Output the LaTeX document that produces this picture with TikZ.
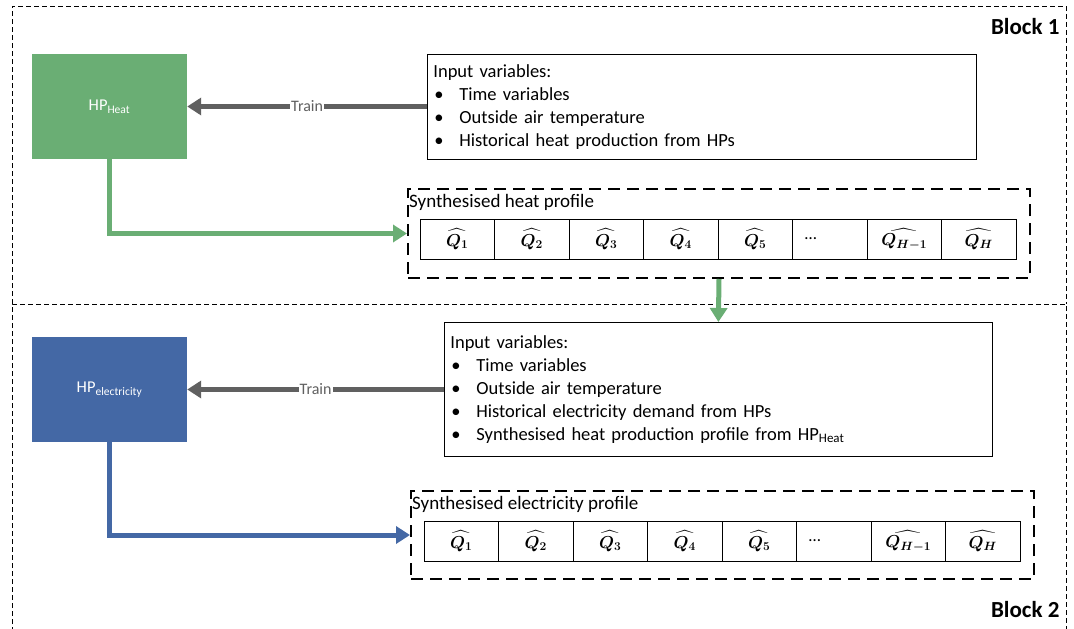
\documentclass[tikz,border=0pt]{standalone}
\usepackage{fontspec}
\setmainfont{Carlito}
\usepackage{amsmath}
\usetikzlibrary{arrows.meta,positioning}

\definecolor{hpgreen}{RGB}{106,174,116}
\definecolor{hpblue}{RGB}{68,104,165}
\definecolor{traingray}{RGB}{96,96,96}

\newcommand{\qcell}[1]{{\boldmath$\widehat{Q_{#1}}$}}
\newcommand{\bulletline}[1]{\makebox[26pt][l]{\hspace{1pt}\textbullet}#1}

\begin{document}
\begin{tikzpicture}[x=1pt,y=-1pt,line cap=butt,
	hpbox/.style={minimum width=155pt,minimum height=105pt,inner sep=0pt,text=white,font=\fontsize{16.5}{18}\selectfont},
	inbox/.style={draw,line width=0.8pt,anchor=north west,align=left,inner sep=6pt,font=\fontsize{18.5}{23}\selectfont},
	profbox/.style={draw,line width=2pt,dash pattern=on 12pt off 7pt,anchor=north west,inner sep=0pt},
	cell/.style={draw,line width=0.8pt,minimum width=74.5pt,minimum height=40pt,inner sep=0pt,font=\fontsize{17}{19}\selectfont},
	trainarrow/.style={traingray,line width=5pt,-{Triangle[length=14pt,width=17pt]}},
	flow/.style={line width=5pt,-{Triangle[length=14pt,width=17pt]}},
	trainlabel/.style={fill=white,text=traingray,inner sep=1pt,font=\fontsize{16}{18}\selectfont},
	blocklabel/.style={anchor=east,font=\fontsize{23}{26}\selectfont\bfseries}]
	\useasboundingbox (0,0) rectangle (1074,629);
	% block frames
	\draw [line width=0.8pt,dash pattern=on 5pt off 3pt] (12,304) -- (12,6) -- (1066,6) -- (1066,304);
	\draw [line width=0.8pt,dash pattern=on 5pt off 3pt] (12,640) -- (12,304) -- (1066,304) -- (1066,640);
	\node [blocklabel] (blk1) at (1063,27) {Block 1};
	\node [blocklabel] (blk2) at (1063,610) {Block 2};
	% block 1
	\node [hpbox,fill=hpgreen] (heat) at (109.5,106.5) {HP\textsubscript{Heat}};
	\node [inbox,text width=537pt,minimum height=105pt] (in1) at (427,54) {Input variables:\\
		\bulletline{Time variables}\\
		\bulletline{Outside air temperature}\\
		\bulletline{Historical heat production from HPs}};
	\draw [trainarrow] (in1.west |- heat) -- (heat.east) node [trainlabel,pos=0.5] (tr1) {Train};
	\node [profbox,minimum width=622pt,minimum height=89pt] (hprof) at (407,188) {};
	\node [anchor=west,inner sep=0pt,font=\fontsize{19}{21}\selectfont] (htitle) at (409,202) {Synthesised heat profile};
	\foreach \i/\q in {1/1,2/2,3/3,4/4,5/5,7/{H-1},8/H} {
		\node [cell] (h\i) at (420+74.5*\i-37.25,239) {\qcell{\q}};
	}
	\node [cell] (h6) at (420+74.5*6-37.25,239) {\makebox[50pt][l]{\dots}};
	\draw [flow,hpgreen] (heat.south) |- (hprof.west);
	% block 2
	\node [hpbox,fill=hpblue] (elec) at (109.5,389.5) {HP\textsubscript{electricity}};
	\node [inbox,text width=536pt,minimum height=134pt] (in2) at (444,322) {Input variables:\\
		\bulletline{Time variables}\\
		\bulletline{Outside air temperature}\\
		\bulletline{Historical electricity demand from HPs}\\
		\bulletline{Synthesised heat production profile from HP\textsubscript{Heat}}};
	\draw [trainarrow] (in2.west |- elec) -- (elec.east) node [trainlabel,pos=0.5] (tr2) {Train};
	\node [profbox,minimum width=623pt,minimum height=88pt] (eprof) at (410,490) {};
	\node [anchor=west,inner sep=0pt,font=\fontsize{19}{21}\selectfont] (etitle) at (412,504) {Synthesised electricity profile};
	\foreach \i/\q in {1/1,2/2,3/3,4/4,5/5,7/{H-1},8/H} {
		\node [cell] (e\i) at (424+74.5*\i-37.25,541) {\qcell{\q}};
	}
	\node [cell] (e6) at (424+74.5*6-37.25,541) {\makebox[50pt][l]{\dots}};
	\draw [flow,hpblue] (elec.south) |- (eprof.west);
	% heat profile feeds block 2
	\draw [flow,hpgreen] (hprof.south) -- (in2.north);
\end{tikzpicture}
\end{document}
